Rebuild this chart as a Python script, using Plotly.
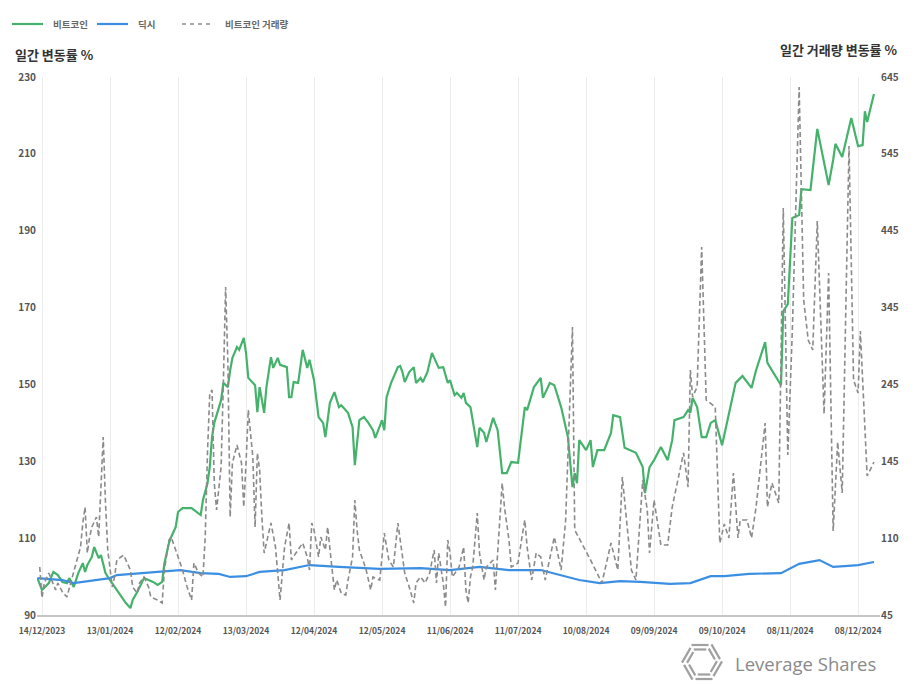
import math
import pandas as pd
import numpy as np
import plotly.graph_objects as go

START = pd.Timestamp("2023-12-14")

# ---- Bitcoin (left axis, daily change index %) ----
btc_day = [-2, 0, 3, 5, 7, 9, 11, 12, 14, 16, 18, 19, 20, 22, 23, 25, 26, 28, 30, 33, 35, 37, 39, 40, 42, 43,
           45, 47, 49, 51, 53, 54, 56, 57, 59, 60, 62, 66, 68, 70, 71, 73, 74, 75, 76, 79, 80, 82, 83, 84, 86,
           87, 89, 90, 91, 94, 95, 96, 98, 99, 101, 102, 104, 105, 108, 109, 110, 111, 113, 114, 115, 117, 118,
           120, 122, 124, 125, 126, 127, 129, 131, 132, 135, 137, 138, 139, 140, 142, 144, 146, 147, 148, 150,
           151, 152, 154, 157, 158, 159, 160, 162, 164, 165, 167, 168, 170, 172, 175, 177, 179, 180, 182, 183,
           185, 186, 187, 189, 192, 193, 195, 196, 199, 201, 203, 205, 207, 210, 213, 214, 217, 220, 221, 224,
           226, 229, 232, 234, 235, 236, 237, 240, 242, 243, 245, 248, 251, 252, 255, 257, 262, 265, 266, 268,
           270, 273, 276, 278, 279, 283, 285, 286, 287, 289, 291, 293, 295, 297, 300, 306, 309, 313, 315, 319,
           320, 326, 327, 329, 331, 334, 335, 339, 342, 347, 349, 350, 353, 357, 360, 362, 363, 364, 367]
btc_val = [99.6, 96.5, 98.3, 101.2, 100.4, 98.6, 98.3, 99.6, 97.3, 100.9, 103.5, 101.2, 103.0, 105.1, 107.7,
           104.8, 105.6, 100.9, 99.1, 96.5, 94.7, 93.1, 91.8, 93.9, 96.0, 97.3, 99.6, 99.1, 98.6, 97.8, 98.6,
           103.5, 108.7, 110.3, 112.9, 116.8, 117.8, 117.8, 116.8, 116.0, 119.9, 124.3, 128.5, 136.3, 140.0,
           145.9, 150.4, 149.3, 153.7, 156.9, 159.7, 159.0, 162.1, 158.2, 151.7, 149.8, 142.8, 149.3, 142.6,
           149.3, 157.1, 154.3, 156.9, 155.1, 154.5, 146.7, 146.7, 150.6, 150.4, 154.5, 159.0, 154.3, 156.4,
           151.1, 141.5, 140.0, 136.3, 140.7, 145.2, 148.0, 144.1, 144.6, 142.6, 138.9, 129.0, 134.8, 140.7,
           141.5, 140.0, 138.1, 136.1, 137.6, 140.7, 138.1, 146.7, 150.4, 154.5, 154.8, 153.2, 150.6, 153.2,
           154.5, 150.4, 151.7, 150.6, 153.2, 158.2, 154.3, 154.5, 150.4, 151.1, 147.2, 147.8, 146.5, 147.8,
           145.2, 144.1, 133.7, 138.7, 137.4, 135.0, 141.3, 138.1, 126.9, 126.9, 129.8, 129.6, 144.1, 143.3,
           149.3, 151.7, 146.5, 150.4, 149.8, 144.1, 136.3, 123.3, 126.9, 124.3, 135.5, 132.9, 135.5, 128.5,
           132.9, 132.9, 137.4, 142.0, 141.5, 133.5, 132.2, 128.5, 121.7, 128.5, 130.3, 133.7, 130.3, 135.5,
           140.7, 141.5, 143.3, 142.6, 146.5, 144.1, 136.3, 136.3, 140.0, 140.7, 134.2, 150.4, 152.2, 149.1,
           153.7, 161.0, 155.6, 149.8, 169.1, 170.9, 193.3, 194.1, 200.8, 200.6, 216.5, 201.9, 208.4, 212.6,
           209.2, 219.3, 212.0, 212.3, 221.1, 218.3, 225.6]

# ---- Dollar index (left axis) ----
dxy_day = [-2, 9, 14, 24, 30, 33, 46, 51, 61, 70, 78, 83, 90, 96, 107, 118, 131, 149, 167, 180, 193, 206,
           220, 229, 237, 246, 255, 264, 277, 286, 295, 301, 312, 326, 334, 343, 349, 354, 360, 367]
dxy_val = [99.6, 99.1, 98.3, 99.1, 99.6, 100.4, 100.9, 101.2, 101.7, 100.9, 100.7, 99.9, 100.1, 101.2,
           101.7, 103.0, 102.5, 102.0, 102.2, 101.7, 102.5, 101.7, 101.7, 100.4, 99.1, 98.3, 98.8, 98.6,
           98.1, 98.3, 100.1, 100.1, 100.7, 100.9, 103.3, 104.3, 102.5, 102.7, 103.0, 103.8]

# ---- Bitcoin volume (right axis) ----
vol_day = [-1, 0, 1, 3, 6, 7, 9, 11, 13, 15, 17, 18, 19, 20, 21, 22, 24, 25, 26, 27, 28, 29, 31, 32, 33, 36,
           37, 39, 40, 42, 43, 45, 47, 48, 51, 53, 54, 56, 57, 60, 62, 64, 66, 67, 69, 71, 72, 73, 74, 75, 76,
           77, 79, 80, 81, 82, 83, 84, 86, 88, 89, 90, 91, 93, 94, 95, 96, 97, 98, 101, 103, 105, 106, 107,
           109, 110, 112, 115, 117, 118, 119, 120, 122, 123, 125, 126, 128, 129, 130, 132, 134, 135, 137, 138,
           139, 140, 142, 143, 145, 146, 149, 151, 153, 155, 157, 159, 160, 162, 164, 165, 167, 169, 171, 173,
           174, 175, 177, 178, 179, 180, 181, 184, 186, 187, 188, 189, 190, 192, 193, 195, 196, 199, 200, 201,
           203, 204, 206, 207, 210, 212, 213, 214, 216, 218, 220, 222, 226, 229, 231, 234, 235, 242, 247, 251,
           254, 256, 260, 262, 265, 267, 268, 270, 273, 276, 278, 283, 285, 286, 287, 289, 291, 293, 297, 299,
           301, 303, 305, 307, 308, 311, 313, 315, 319, 320, 322, 325, 327, 329, 331, 334, 336, 338, 340, 342,
           345, 347, 349, 351, 353, 356, 358, 360, 361, 364, 367]
vol_val = [98.5, 64.0, 80.7, 91.8, 72.9, 80.7, 70.6, 65.1, 84.0, 103.0, 120.8, 147.6, 165.4, 114.1, 132.0,
           143.1, 154.3, 132.0, 198.9, 243.5, 169.9, 117.5, 76.2, 87.4, 106.3, 111.9, 106.3, 95.2, 76.2, 69.5,
           80.7, 87.4, 76.2, 65.1, 61.7, 58.4, 95.2, 128.6, 132.0, 109.7, 95.2, 76.2, 61.7, 103.0, 91.8, 87.4,
           132.0, 225.7, 292.6, 295.9, 192.2, 162.1, 210.0, 303.7, 410.8, 326.0, 154.3, 214.5, 234.6, 214.5,
           165.4, 214.5, 273.6, 221.2, 143.1, 225.7, 206.7, 154.3, 114.1, 147.6, 120.8, 61.7, 87.4, 120.8,
           147.6, 106.3, 114.1, 125.3, 109.7, 95.2, 147.6, 139.8, 109.7, 132.0, 117.5, 143.1, 95.2, 72.9, 84.0,
           69.5, 67.3, 84.0, 109.7, 173.2, 139.8, 117.5, 103.0, 95.2, 72.9, 87.4, 84.0, 136.4, 106.3, 98.5,
           147.6, 114.1, 91.8, 76.2, 58.4, 80.7, 87.4, 80.7, 91.8, 117.5, 80.7, 114.1, 80.7, 53.9, 128.6, 114.1,
           87.4, 98.5, 120.8, 72.9, 58.4, 87.4, 98.5, 158.8, 114.1, 84.0, 98.5, 106.3, 72.9, 114.1, 192.2,
           165.4, 128.6, 98.5, 103.0, 136.4, 150.9, 120.8, 84.0, 114.1, 109.7, 84.0, 132.0, 95.2, 150.9, 366.2,
           139.8, 106.3, 80.7, 125.3, 95.2, 198.9, 95.2, 84.0, 195.6, 162.1, 114.1, 173.2, 123.1, 123.1, 165.4,
           225.7, 187.7, 318.2, 288.1, 299.3, 455.4, 284.8, 277.0, 125.3, 146.5, 130.9, 203.4, 130.9, 150.9,
           150.9, 130.9, 165.4, 259.1, 165.4, 192.2, 169.9, 498.9, 223.4, 362.8, 633.8, 396.3, 351.7, 340.5,
           484.4, 269.2, 426.4, 138.7, 237.9, 181.1, 568.0, 307.1, 292.6, 361.7, 200.0, 215.6]

x_tick_dates = ["2023-12-14", "2024-01-13", "2024-02-12", "2024-03-13", "2024-04-12", "2024-05-12",
                "2024-06-11", "2024-07-11", "2024-08-10", "2024-09-09", "2024-10-09", "2024-11-08",
                "2024-12-08"]
x_tick_text = [pd.Timestamp(d).strftime("%d/%m/%Y") for d in x_tick_dates]
left_ticks = [90, 110, 130, 150, 170, 190, 210, 230]
right_tick_text = ["45", "110", "145", "245", "345", "445", "545", "645"]

series_names = ["비트코인", "딕시", "비트코인 거래량"]
left_title = "일간 변동률 %"
right_title = "일간 거래량 변동률 %"

GREEN = "#45b26b"
BLUE = "#3b8fe3"
GREY = "#8a8a8a"
FONT = "Noto Sans CJK KR"

def to_dates(days):
    return START + pd.to_timedelta(days, unit="D")

W, H = 918, 684
L, R, T, B = 37, 880, 77, 615

def px(x):
    return (x - L) / (R - L)

def py(y):
    return (B - y) / (B - T)

fig = go.Figure()
fig.add_trace(go.Scatter(x=to_dates(vol_day), y=vol_val, yaxis="y2", mode="lines",
                         name=series_names[2], line=dict(color=GREY, width=1.6, dash="5px,3px")))
fig.add_trace(go.Scatter(x=to_dates(btc_day), y=btc_val, mode="lines", name=series_names[0],
                         line=dict(color=GREEN, width=2.2)))
fig.add_trace(go.Scatter(x=to_dates(dxy_day), y=dxy_val, mode="lines", name=series_names[1],
                         line=dict(color=BLUE, width=2.2)))

tickfont = dict(family=FONT, size=10, color="#555555", weight=700)

fig.update_layout(
    width=W, height=H,
    margin=dict(l=L, r=W - R, t=T, b=H - B),
    paper_bgcolor="white", plot_bgcolor="white",
    showlegend=False,
    font=dict(family=FONT),
    xaxis=dict(type="date", range=["2023-12-11 19:00", "2024-12-17 16:00"],
               tickmode="array", tickvals=x_tick_dates, ticktext=x_tick_text,
               showgrid=True, gridcolor="#ececec", gridwidth=1,
               showline=True, linecolor="#c6c6c6", linewidth=2,
               ticks="", zeroline=False, ticklabelstandoff=7,
               tickfont=dict(family=FONT, size=8.5, color="#555555", weight=700)),
    yaxis=dict(range=[90, 230], tickmode="array", tickvals=left_ticks,
               showgrid=False, zeroline=False, ticks="", tickfont=tickfont),
    yaxis2=dict(range=[45, 645], overlaying="y", side="right", tickmode="array",
                tickvals=list(np.linspace(45, 645, 8)), ticktext=right_tick_text,
                showgrid=False, zeroline=False, ticks="", tickfont=tickfont),
)

ann = []
# axis titles
ann.append(dict(text=left_title, x=px(13), y=py(55), xref="paper", yref="paper",
                xanchor="left", yanchor="middle", showarrow=False,
                font=dict(family=FONT, size=13, color="#333333", weight=700)))
ann.append(dict(text=right_title, x=px(900), y=py(49), xref="paper", yref="paper",
                xanchor="right", yanchor="middle", showarrow=False,
                font=dict(family=FONT, size=13, color="#333333", weight=700)))
# legend
legend_items = [(12, 43, 51, GREEN, "solid"), (97, 128, 136, BLUE, "solid"), (182, 213, 223, GREY, "4px,4px")]
shapes = []
for (x0, x1, tx, col, dash), name in zip(legend_items, series_names):
    shapes.append(dict(type="line", xref="paper", yref="paper", x0=px(x0), x1=px(x1), y0=py(24), y1=py(24),
                       line=dict(color=col, width=2.2 if dash == "solid" else 1.6, dash=dash)))
    ann.append(dict(text=name, x=px(tx), y=py(24), xref="paper", yref="paper", xanchor="left",
                    yanchor="middle", showarrow=False,
                    font=dict(family=FONT, size=9.5, color="#666666", weight=700)))
# logo text
ann.append(dict(text="Leverage Shares", x=px(733), y=py(663), xref="paper", yref="paper",
                xanchor="left", yanchor="middle", showarrow=False,
                font=dict(family="Open Sans", size=18.5, color="#8a8a8a")))
# logo icon (decorative strokes)
cx, cy = 702, 662
for k in range(6):
    a = math.radians(90 + 60 * k)
    for r in (17, 12.5):
        mx, my = cx + r * math.cos(a), cy - r * math.sin(a)
        dx, dy = -math.sin(a), -math.cos(a)
        h = 0.5 * r
        x0, y0 = mx - h * dx + 2 * dx, my - h * dy + 2 * dy
        x1, y1 = mx + h * dx + 2 * dx, my + h * dy + 2 * dy
        shapes.append(dict(type="line", xref="paper", yref="paper", x0=px(x0), y0=py(y0), x1=px(x1),
                           y1=py(y1), line=dict(color="#a0a0a0", width=2.2)))

fig.update_layout(annotations=ann, shapes=shapes)
fig.write_html("out.html")
